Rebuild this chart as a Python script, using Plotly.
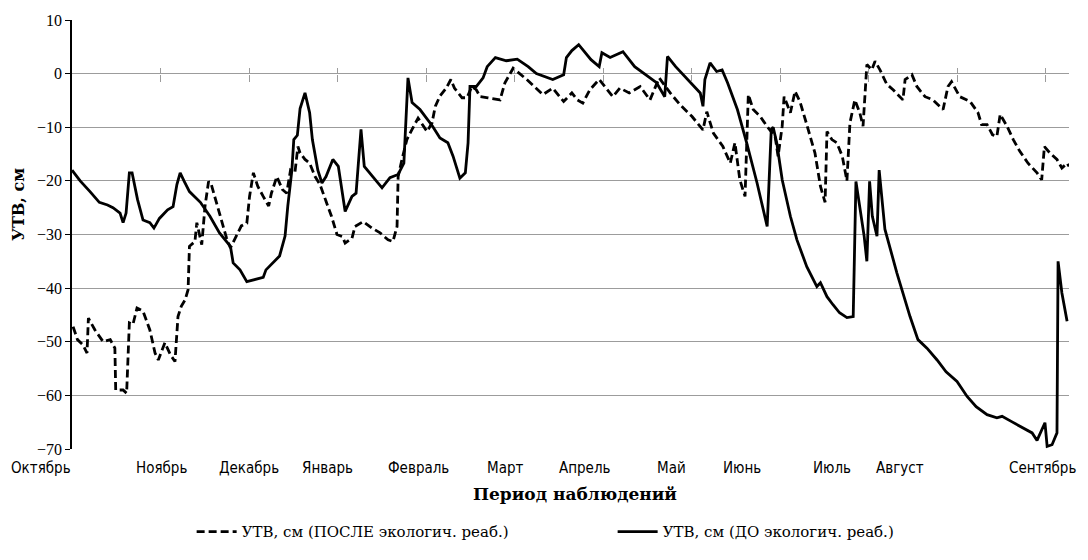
import plotly.graph_objects as go

# ---- Data ----
days_after = [0.4, 2, 4, 5.5, 6, 8.4, 11.4, 14, 15.7, 16, 18.7, 20, 21, 22.3, 23.8, 26, 28.5, 30.4, 31.6, 34,
              36, 37.7, 38.8, 40, 41.4, 42.5, 43, 45, 45.7, 46.8, 47.5, 48.7, 50, 51, 54, 56.6, 58, 60, 62, 64,
              65, 66.4, 68, 70, 72, 73, 75, 77, 78.6, 80, 81.6, 82.7, 83.5, 85.3, 87, 89, 90.8, 93, 95, 97,
              99, 100, 102.5, 103.6, 106.6, 109.8, 112.8, 115.7, 117.5, 119, 119.4, 120.8, 122.6, 124.5, 126.7,
              130, 131.8, 133, 134.7, 137, 138.7, 140, 142.8, 144.6, 146.4, 148, 149.4, 152.3, 156.7, 158.5,
              161.5, 166.5, 172.4, 176, 180, 183, 185, 187, 189.6, 193, 195.8, 198, 200.6, 204, 208, 211.6,
              213.4, 215, 219, 222.6, 227, 231, 232.4, 234.8, 238.3, 241, 242.7, 244.5, 246.4, 247.6, 249.4,
              252, 254.4, 257.4, 258.5, 260, 260.7, 263, 264.7, 266.5, 269, 272, 274, 275.7, 276.4, 278.2,
              280, 282, 283.7, 284.8, 286.6, 288.4, 289.6, 291, 292.8, 294, 295.8, 298.3, 300.6, 302.4, 304.2,
              305, 307.5, 309.3, 312.3, 315.2, 318.9, 320.7, 322, 325, 328.8, 331.7, 333, 335, 337, 338.6,
              339.8, 342.3, 344.6, 347, 350, 353.3, 355, 356, 358, 360.6, 362.4, 364.3, 365]
utv_after = [-47.2, -49.6, -50.6, -52.1, -45.6, -47.8, -50, -49.6, -51.2, -59, -59, -59.6, -46.5, -46.8, -43.7,
             -44.3, -47.8, -52.1, -53.4, -50.2, -52.4, -53.7, -45.3, -43.4, -42.2, -40.3, -32.2, -31.3, -27.8,
             -30.3, -31.9, -24.7, -20.1, -20.7, -26, -30.7, -32.5, -30.3, -28.4, -27.9, -22.9, -18.5, -21,
             -22.9, -24.7, -22.3, -19.2, -21.6, -22.3, -18, -18.5, -13.6, -14.8, -16, -16.7, -19.2, -20.7,
             -23.8, -26.6, -30, -30.4, -31.6, -30.7, -28.5, -27.6, -28.8, -29.7, -31, -31.3, -28.5, -19.2,
             -16, -12.3, -10.4, -8.3, -10.8, -9.2, -6.1, -4.2, -2.7, -1.1, -2.7, -4.5, -4.5, -2.4, -3, -4.3,
             -4.5, -4.9, -1.7, 1, -1.1, -3.9, -2.7, -5.2, -3.6, -4.9, -5.5, -3, -1.1, -3, -4.3, -2.7, -3.6,
             -2.4, -4.9, -2.7, -0.8, -3.6, -5.8, -8, -10.5, -7.1, -11.1, -13.6, -16.7, -12.9, -19.8, -22.9,
             -3.9, -6.7, -8, -9.8, -11.7, -15.4, -9.8, -4.3, -7.3, -3.3, -5.2, -9.5, -14.8, -21, -24, -10.8,
             -12.3, -12.9, -15.4, -20, -9.2, -4.9, -7.3, -9.8, 1.7, 0.7, 2.3, 0.7, -2, -3, -3.9, -4.9, -1.1,
             -0.2, -2.4, -4.3, -4.9, -6.7, -2.4, -1.5, -4.3, -5.2, -7.3, -9.5, -9.5, -11.4, -11.7, -7.6, -9.8,
             -12.3, -14.5, -16.7, -18.5, -19.8, -13.6, -14.8, -16, -17.6, -16.7, -17.3]

days_before = [0, 3, 6.6, 10, 13, 15, 17.6, 18.7, 19.8, 21, 22, 24, 26, 28.5, 30, 32, 35, 37, 38.4, 39.6, 41, 43,
               47, 50.5, 54, 58, 59, 61.5, 64, 68, 70, 71, 73.7, 76, 78, 79, 80.5, 81.2, 82.5, 83.5, 85.3, 87,
               88, 90, 91.5, 93, 95.5, 97.5, 100, 102.5, 104, 105.8, 107, 110, 113.5, 116.4, 119.4, 121.5, 123,
               124.5, 127.4, 132, 134.7, 137.6, 139.5, 142, 144, 145, 145.7, 148, 150.5, 152, 155, 159, 163,
               167, 170, 176, 180, 181, 183, 185.5, 190, 193, 194, 197, 201.7, 206, 210, 214, 217, 218, 221,
               225, 230, 231, 231.7, 233.6, 236, 238, 240, 243.6, 247, 250.8, 254.5, 256, 256.7, 258, 260, 263,
               265.4, 269, 272.7, 274, 276.4, 278.6, 281, 283.7, 286, 287, 290, 291, 292, 293, 294.7, 295.5,
               297.6, 302, 306.8, 309.7, 313, 316.7, 320, 324, 327.7, 331, 335, 338.6, 340.5, 344, 347.8, 351.5,
               353.3, 356.2, 357, 358.8, 360.6, 361, 362.4, 364.3]
utv_before = [-18, -20, -22, -24, -24.5, -25, -26, -27.8, -26, -18.5, -18.5, -23.5, -27.3, -27.8, -28.8, -27,
              -25.4, -24.8, -20.7, -18.5, -20, -22, -24, -26.6, -29.7, -32.2, -35.3, -36.6, -38.8, -38.3, -38,
              -36.6, -35.3, -34, -30.3, -24.7, -18, -12.3, -11.5, -6.5, -3.6, -7.3, -12.3, -18, -20.4, -19.2,
              -16, -17.3, -25.7, -22.9, -22.3, -10.4, -17.3, -19.2, -21.3, -19.4, -18.8, -16.7, -0.8, -5.4,
              -6.7, -9.8, -12, -12.9, -15.4, -19.5, -18.5, -12.9, -2.4, -2.4, -0.8, 1.3, 3, 2.4, 2.7, 1.3, 0,
              -1.1, -0.2, 3, 4.3, 5.4, 2.6, 1.3, 3.9, 3, 4.1, 1.3, -0.2, -1.7, -4.3, 3.2, 1.3, -0.8, -3.6,
              -6.1, -1.1, 2, 0.4, 0.7, -1.7, -6.7, -12.9, -20.4, -28.5, -10.4, -10, -12.9, -19.8, -26.6, -31,
              -36, -39.7, -39, -41.6, -43.1, -44.6, -45.5, -45.3, -20.1, -30.3, -35, -20.1, -26.6, -30.3, -18,
              -29, -37.2, -45.3, -49.6, -51.2, -53.4, -55.6, -57.4, -60.2, -62.1, -63.6, -64.2, -63.9, -64.9,
              -66, -67, -68.4, -65.1, -69.5, -69.2, -67, -35, -40.9, -46.2]

month_labels = ["Октябрь", "Ноябрь", "Декабрь", "Январь", "Февраль", "Март", "Апрель", "Май",
                "Июнь", "Июль", "Август", "Сентябрь"]
month_label_days = [-11.5, 32.6, 64.8, 93.7, 127, 158.5, 187.8, 219.3, 245.3, 278.2, 303.1, 355.2]
tick_days = [32.4, 64.8, 97.2, 129.6, 162, 194.4, 226.8, 259.2, 291.6, 324, 356.4]

name_after = "УТВ, см (ПОСЛЕ экологич. реаб.)"
name_before = "УТВ, см (ДО экологич. реаб.)"

X_MIN, X_MAX = 0, 365
SERIF = "Liberation Serif, Times New Roman, serif"
WIDE_SERIF = "DejaVu Serif, Liberation Serif, serif"
NARROW = "Liberation Sans Narrow, DejaVu Sans Condensed, Arial Narrow, sans-serif"
GRID = "#9c9c9c"

fig = go.Figure()
fig.add_trace(go.Scatter(x=days_after, y=utv_after, mode="lines", name=name_after,
                         line=dict(color="black", width=2.8, dash="8px,4px")))
fig.add_trace(go.Scatter(x=days_before, y=utv_before, mode="lines", name=name_before,
                         line=dict(color="black", width=2.8)))
# empty trace so that the upper tick axis gets drawn
fig.add_trace(go.Scatter(x=[None], y=[None], xaxis="x2", showlegend=False, hoverinfo="skip"))

# the page body has an 8px default margin: compensate in size and margins
fig.update_layout(
    width=1072, height=544,
    margin=dict(l=64, r=11, t=12, b=103, autoexpand=False),
    paper_bgcolor="white", plot_bgcolor="white",
    showlegend=True,
    legend=dict(orientation="h", x=0.12, xanchor="left", y=-0.193, yanchor="middle",
                font=dict(family=WIDE_SERIF, size=15, color="black"),
                entrywidth=366, entrywidthmode="pixels", itemwidth=40),
    xaxis=dict(range=[X_MIN, X_MAX], anchor="free", position=0.875, showgrid=False, zeroline=False,
               showline=False, tickmode="array", tickvals=tick_days, ticks="outside", ticklen=7,
               tickcolor=GRID, tickwidth=1, showticklabels=False),
    xaxis2=dict(range=[X_MIN, X_MAX], overlaying="x", anchor="free", position=0.875, side="top",
                showgrid=False, zeroline=False, showline=False, tickmode="array", tickvals=tick_days,
                ticks="outside", ticklen=6, tickcolor=GRID, tickwidth=1, showticklabels=False),
    yaxis=dict(range=[-70, 10], dtick=10, tick0=0, showgrid=True, gridcolor=GRID, gridwidth=1,
               zeroline=False, showline=True, linecolor="black", linewidth=1.5,
               ticks="outside", ticklen=5, tickcolor="black",
               tickfont=dict(family=SERIF, size=16, color="black")),
)

annotations = []
for lbl, d in zip(month_labels, month_label_days):
    annotations.append(dict(x=(d - X_MIN) / (X_MAX - X_MIN), y=-0.044, xref="paper", yref="paper",
                            text=lbl, showarrow=False, xanchor="center", yanchor="middle",
                            font=dict(family=NARROW, size=15, color="black")))
annotations.append(dict(x=0.505, y=-0.105, xref="paper", yref="paper", text="<b>Период наблюдений</b>",
                        showarrow=False, xanchor="center", yanchor="middle",
                        font=dict(family=WIDE_SERIF, size=17, color="black")))
annotations.append(dict(x=-0.053, y=0.569, xref="paper", yref="paper", text="<b>УТВ, см</b>",
                        showarrow=False, textangle=-90, xanchor="center", yanchor="middle",
                        font=dict(family=WIDE_SERIF, size=16, color="black")))
fig.update_layout(annotations=annotations)

fig.write_html("out.html")
